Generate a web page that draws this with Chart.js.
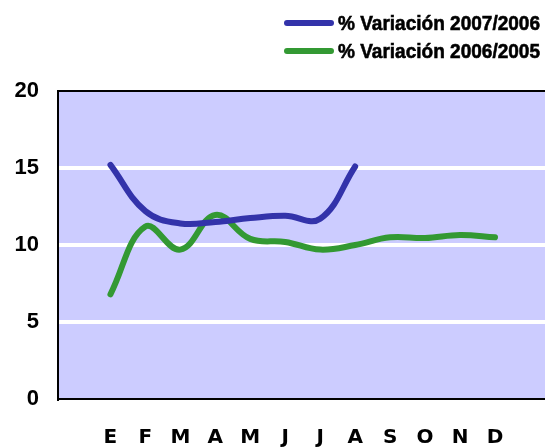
<!DOCTYPE html>
<html>
<head>
<meta charset="utf-8">
<script src="https://cdn.jsdelivr.net/npm/chart.js@4"></script>
<style>
  html, body { margin: 0; padding: 0; background: #fff; }
  #wrap { width: 545px; height: 447px; }
</style>
</head>
<body>
<div id="wrap"><canvas id="chart" width="545" height="447"></canvas></div>
<script>
// Datos
const meses = ['E', 'F', 'M', 'A', 'M', 'J', 'J', 'A', 'S', 'O', 'N', 'D'];
const var2007_2006 = [15.2, 12.2, 11.4, 11.5, 11.75, 11.9, 11.7, 15.1];
const var2006_2005 = [6.8, 11.2, 9.7, 11.95, 10.4, 10.2, 9.7, 10.0, 10.5, 10.45, 10.65, 10.5];
const yTicks = [0, 5, 10, 15, 20];

function toPoints(arr) {
  return arr.map((v, i) => ({ x: i, y: v }));
}

// Fondo del área del gráfico, marco y leyenda
const frame = {
  id: 'frame',
  beforeDraw(chart) {
    const { ctx, chartArea: a } = chart;
    ctx.save();
    ctx.fillStyle = '#ccccff';
    ctx.fillRect(a.left, a.top, a.right - a.left, a.bottom - a.top);
    ctx.restore();
  },
  afterDraw(chart) {
    const { ctx, chartArea: a } = chart;
    ctx.save();
    ctx.strokeStyle = '#000';
    ctx.lineWidth = 2;
    ctx.beginPath();
    ctx.moveTo(a.left - 1, a.top);
    ctx.lineTo(a.right, a.top);
    ctx.stroke();

    // leyenda
    const rows = [23, 51];
    chart.data.datasets.forEach((ds, i) => {
      const y = rows[i];
      ctx.strokeStyle = ds.borderColor;
      ctx.lineWidth = 6;
      ctx.lineCap = 'round';
      ctx.beginPath();
      ctx.moveTo(287, y);
      ctx.lineTo(331, y);
      ctx.stroke();
      ctx.fillStyle = '#000';
      ctx.font = 'bold 21px "Liberation Sans Narrow", "Liberation Sans", Arial, sans-serif';
      ctx.textBaseline = 'middle';
      ctx.textAlign = 'left';
      const w = ctx.measureText(ds.label).width;
      const target = 202;
      ctx.save();
      ctx.translate(338, y + 1);
      ctx.scale(target / w, 1);
      ctx.lineWidth = 0.6;
      ctx.strokeStyle = '#000';
      ctx.lineCap = 'butt';
      ctx.fillText(ds.label, 0, 0);
      ctx.strokeText(ds.label, 0, 0);
      ctx.restore();
    });
    ctx.restore();
  }
};

const ctx = document.getElementById('chart').getContext('2d');
new Chart(ctx, {
  type: 'line',
  data: {
    datasets: [{
      label: '% Variación 2007/2006',
      data: toPoints(var2007_2006),
      borderColor: '#3333aa',
      borderWidth: 6,
      pointRadius: 0,
      tension: 0.4,
      borderCapStyle: 'round'
    }, {
      label: '% Variación 2006/2005',
      data: toPoints(var2006_2005),
      borderColor: '#339933',
      borderWidth: 6,
      pointRadius: 0,
      tension: 0.4,
      borderCapStyle: 'round'
    }]
  },
  options: {
    responsive: false,
    animation: false,
    layout: { padding: { top: 91, left: 0, right: 0, bottom: 0 } },
    plugins: {
      legend: { display: false },
      tooltip: { enabled: false }
    },
    scales: {
      x: {
        type: 'linear',
        min: -1.5,
        max: 12.43,
        grid: { display: false, drawTicks: false },
        border: { display: true, color: '#000', width: 2 },
        afterBuildTicks: (scale) => { scale.ticks = meses.map((m, i) => ({ value: i })); },
        afterFit: (scale) => { scale.height = 48; },
        ticks: {
          autoSkip: false,
          maxRotation: 0,
          padding: 27,
          color: '#000',
          font: { family: '"DejaVu Sans", sans-serif', size: 20, weight: 'bold' },
          callback: (v) => meses[v]
        }
      },
      y: {
        min: 0,
        max: 20,
        afterBuildTicks: (scale) => { scale.ticks = yTicks.map(v => ({ value: v })); },
        afterFit: (scale) => { scale.width = 58; },
        grid: {
          drawTicks: false,
          lineWidth: 4,
          color: (c) => (c.tick && c.tick.value > 0 && c.tick.value < 20) ? '#ffffff' : 'rgba(0,0,0,0)'
        },
        border: { display: true, color: '#000', width: 2 },
        ticks: {
          padding: 19,
          color: '#000',
          font: { family: '"Liberation Sans", Arial, sans-serif', size: 22, weight: 'bold' }
        }
      }
    }
  },
  plugins: [frame]
});
</script>
</body>
</html>
